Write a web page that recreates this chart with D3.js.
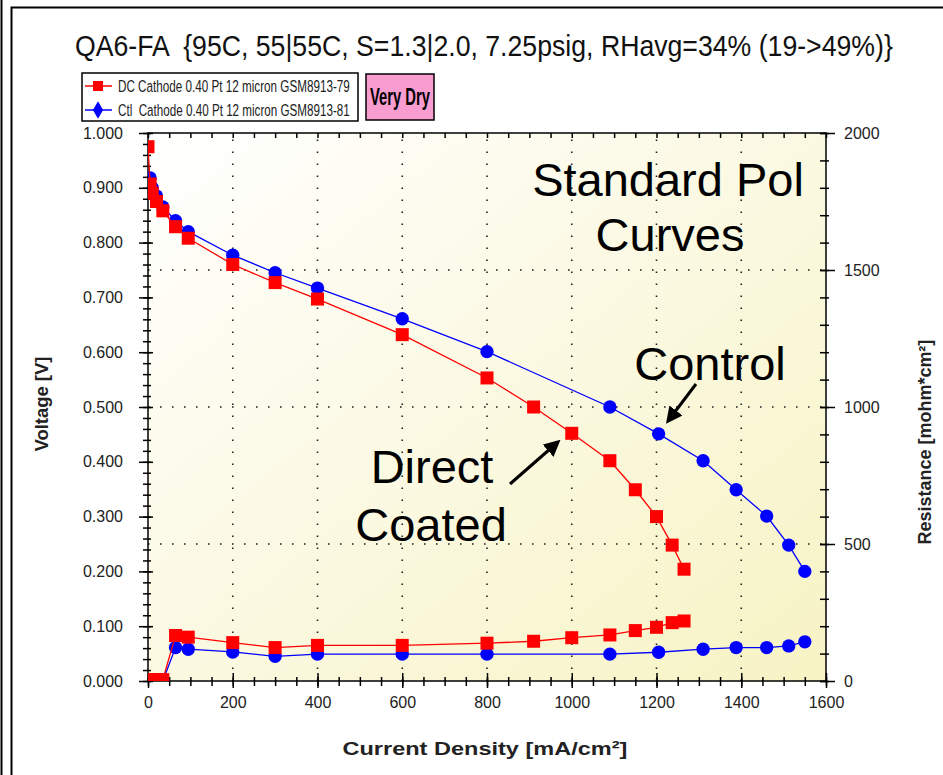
<!DOCTYPE html>
<html>
<head>
<meta charset="utf-8">
<script src="https://cdn.jsdelivr.net/npm/d3@7"></script>
<style>
  body { margin: 0; background: #fff; }
  svg { display: block; font-family: "Liberation Sans", Arial, sans-serif; }
  text { white-space: pre; }
</style>
</head>
<body>
<div id="chart"></div>
<script>
// ---- data ----
var title = "QA6-FA  {95C, 55|55C, S=1.3|2.0, 7.25psig, RHavg=34% (19->49%)}";
var seriesNames = ["DC Cathode 0.40 Pt 12 micron GSM8913-79", "Ctl  Cathode 0.40 Pt 12 micron GSM8913-81"];

// polarisation curves: current density [mA/cm2] and voltage [V]
var dcCurrent = [0, 5, 10, 20, 35, 65, 95, 200, 300, 400, 600, 800, 910, 1000, 1090, 1150, 1200, 1237, 1265];
var dcVoltage = [0.975, 0.907, 0.89, 0.875, 0.858, 0.829, 0.808, 0.760, 0.727, 0.697, 0.632, 0.553, 0.500, 0.452, 0.402, 0.349, 0.300, 0.248, 0.204];
var ctlCurrent = [5, 10, 20, 35, 65, 95, 200, 300, 400, 600, 800, 1090, 1205, 1310, 1388, 1460, 1512, 1550];
var ctlVoltage = [0.918, 0.900, 0.885, 0.865, 0.840, 0.820, 0.777, 0.745, 0.717, 0.661, 0.601, 0.500, 0.451, 0.402, 0.349, 0.301, 0.248, 0.200];

// high frequency resistance [mohm*cm2]
var dcResistance = [5, 5, 5, 5, 5, 166, 160, 140, 122, 130, 130, 138, 145, 158, 168, 184, 196, 213, 219];
var ctlResistance = [0, 0, 0, 0, 122, 116, 106, 90, 98, 98, 98, 98, 105, 116, 122, 122, 128, 143];

var xTicks = [0, 200, 400, 600, 800, 1000, 1200, 1400, 1600];
var vTicks = [0, 0.1, 0.2, 0.3, 0.4, 0.5, 0.6, 0.7, 0.8, 0.9, 1.0];
var rTicks = [0, 500, 1000, 1500, 2000];

var W = 943, H = 775;
var svg = d3.select("#chart").append("svg").attr("width", W).attr("height", H);

// squeeze a text horizontally to a given width (keeps its bounding box honest)
function fitText(sel, x, y, width, rotate, anchor) {
  sel.attr("x", 0).attr("y", 0).attr("text-anchor", "start");
  var len = sel.node().getComputedTextLength();
  var k = width / len;
  var shift = anchor === "middle" ? -width / 2 : 0;
  sel.attr("transform", "translate(" + x + "," + y + ")" + (rotate ? " rotate(" + rotate + ")" : "") +
    " translate(" + shift + ",0) scale(" + k + ",1)");
  return sel;
}

// outer frame
svg.append("line").attr("x1", 1.5).attr("x2", 1.5).attr("y1", 0).attr("y2", H)
  .attr("stroke", "#000").attr("stroke-width", 2);
svg.append("rect").attr("x", 11.5).attr("y", 7.5).attr("width", W + 20).attr("height", H + 20)
  .attr("fill", "none").attr("stroke", "#000").attr("stroke-width", 2);

var pl = 148, pr = 826, pt = 133, pb = 681;
var x = d3.scaleLinear().domain([0, 1600]).range([pl, pr]);
var yV = d3.scaleLinear().domain([0, 1]).range([pb, pt]);
var yR = d3.scaleLinear().domain([0, 2000]).range([pb, pt]);

var defs = svg.append("defs");
var grad = defs.append("linearGradient").attr("id", "bg")
  .attr("x1", "0%").attr("y1", "0%").attr("x2", "100%").attr("y2", "100%");
grad.append("stop").attr("offset", "0%").attr("stop-color", "#ffffff");
grad.append("stop").attr("offset", "100%").attr("stop-color", "#f7f3c4");
defs.append("clipPath").attr("id", "plotclip").append("rect")
  .attr("x", pl).attr("y", pt).attr("width", pr - pl).attr("height", pb - pt);
defs.append("marker").attr("id", "arrow").attr("viewBox", "0 0 10 10")
  .attr("refX", 8).attr("refY", 5).attr("markerWidth", 5.5).attr("markerHeight", 5.5)
  .attr("orient", "auto")
  .append("path").attr("d", "M0,0 L10,5 L0,10 z").attr("fill", "#000");

svg.append("rect").attr("x", pl).attr("y", pt).attr("width", pr - pl).attr("height", pb - pt)
  .attr("fill", "url(#bg)");

// dotted grid
var grid = svg.append("g").attr("stroke", "#222").attr("stroke-width", 1.6)
  .attr("stroke-dasharray", "1.6,10.4");
grid.selectAll(".gx").data(d3.range(200, 1600, 200)).enter().append("line")
  .attr("x1", function(d) { return x(d); }).attr("x2", function(d) { return x(d); })
  .attr("y1", pb).attr("y2", pt);
grid.selectAll(".gy").data([0.25, 0.5, 0.75]).enter().append("line")
  .attr("y1", function(d) { return yV(d); }).attr("y2", function(d) { return yV(d); })
  .attr("x1", pl).attr("x2", pr);

// axes
function fixTicks(g, a, b, horiz) {
  g.selectAll(".tick line").attr(horiz ? "y1" : "x1", a).attr(horiz ? "y2" : "x2", b)
    .attr("stroke", "#000").attr("stroke-width", 1.5);
  g.select(".domain").remove();
}

var axLeft = svg.append("g").attr("transform", "translate(" + pl + ",0)")
  .call(d3.axisLeft(yV).tickValues(vTicks).tickFormat(d3.format(".3f")).tickSize(0).tickPadding(25));
fixTicks(axLeft, -9, 5, false);
var axLeftMinor = svg.append("g").attr("transform", "translate(" + pl + ",0)")
  .call(d3.axisLeft(yV).tickValues(d3.range(0, 51).map(function(i) { return i * 0.02; })).tickFormat("").tickSize(0));
fixTicks(axLeftMinor, -5, 3, false);

var axBottom = svg.append("g").attr("transform", "translate(0," + pb + ")")
  .call(d3.axisBottom(x).tickValues(xTicks).tickFormat(d3.format("d")).tickSize(0).tickPadding(16));
fixTicks(axBottom, -8, 7, true);
var axBottomMinor = svg.append("g").attr("transform", "translate(0," + pb + ")")
  .call(d3.axisBottom(x).tickValues(d3.range(0, 1601, 50)).tickFormat("").tickSize(0));
fixTicks(axBottomMinor, -4, 5, true);
var axTopMinor = svg.append("g").attr("transform", "translate(0," + pt + ")")
  .call(d3.axisTop(x).tickValues(d3.range(0, 1601, 50)).tickFormat("").tickSize(0));
fixTicks(axTopMinor, 0, 5, true);

var axRight = svg.append("g").attr("transform", "translate(" + pr + ",0)")
  .call(d3.axisRight(yR).tickValues(rTicks).tickFormat(d3.format("d")).tickSize(0).tickPadding(18));
fixTicks(axRight, -6, 9, false);
var axRightMinor = svg.append("g").attr("transform", "translate(" + pr + ",0)")
  .call(d3.axisRight(yR).tickValues(d3.range(0, 2001, 100)).tickFormat("").tickSize(0));
fixTicks(axRightMinor, -6, 3, false);

svg.selectAll(".tick text").attr("font-size", 16).attr("fill", "#222")
  .attr("font-family", "'Liberation Sans', Arial, sans-serif");

// plot frame
svg.append("rect").attr("x", pl).attr("y", pt).attr("width", pr - pl).attr("height", pb - pt)
  .attr("fill", "none").attr("stroke", "#000").attr("stroke-width", 1.5);

// series
var plot = svg.append("g").attr("clip-path", "url(#plotclip)");
function zipData(xs, ys) { return xs.map(function(d, i) { return [d, ys[i]]; }); }
var series = [
  { color: "#ff0000", shape: "square", yScale: yV, data: zipData(dcCurrent, dcVoltage) },
  { color: "#0000ff", shape: "circle", yScale: yV, data: zipData(ctlCurrent, ctlVoltage) },
  { color: "#ff0000", shape: "square", yScale: yR, data: zipData(dcCurrent, dcResistance) },
  { color: "#0000ff", shape: "circle", yScale: yR, data: zipData(ctlCurrent, ctlResistance) }
];
// draw blue first so red sits on top like the original
[1, 3, 0, 2].forEach(function(k) {
  var s = series[k];
  var line = d3.line().x(function(d) { return x(d[0]); }).y(function(d) { return s.yScale(d[1]); });
  plot.append("path").datum(s.data).attr("d", line)
    .attr("fill", "none").attr("stroke", s.color).attr("stroke-width", 1.3);
  var sym = d3.symbol().type(s.shape === "square" ? d3.symbolSquare : d3.symbolCircle)
    .size(s.shape === "square" ? 169 : 140);
  plot.selectAll(null).data(s.data).enter().append("path")
    .attr("d", sym)
    .attr("transform", function(d) { return "translate(" + x(d[0]) + "," + s.yScale(d[1]) + ")"; })
    .attr("fill", s.color);
});

// title
fitText(svg.append("text").attr("font-size", 30).attr("fill", "#111").text(title),
  484, 56, 818, 0, "middle");

// axis titles
fitText(svg.append("text").attr("font-weight", "bold").attr("font-size", 18).attr("fill", "#222")
  .text("Voltage [V]"), 48, 404, 95, -90, "middle");
fitText(svg.append("text").attr("font-weight", "bold").attr("font-size", 19).attr("fill", "#222")
  .text("Current Density [mA/cm²]"), 485, 755, 285, 0, "middle");
fitText(svg.append("text").attr("font-weight", "bold").attr("font-size", 18).attr("fill", "#222")
  .text("Resistance [mohm*cm²]"), 931, 442, 205, -90, "middle");

// legend
var legend = svg.append("g");
legend.append("rect").attr("x", 82).attr("y", 73).attr("width", 276).attr("height", 48)
  .attr("fill", "#fff").attr("stroke", "#000").attr("stroke-width", 1.5);
[0, 1].forEach(function(i) {
  var ly = 86 + i * 24;
  var c = series[i].color;
  legend.append("line").attr("x1", 85).attr("x2", 112).attr("y1", ly).attr("y2", ly)
    .attr("stroke", c).attr("stroke-width", 1.5);
  legend.append("path")
    .attr("d", d3.symbol().type(i === 0 ? d3.symbolSquare : d3.symbolDiamond).size(i === 0 ? 100 : 90))
    .attr("transform", "translate(98," + ly + ")").attr("fill", c);
  fitText(legend.append("text").attr("font-size", 17).attr("fill", "#222").text(seriesNames[i]),
    118, ly + 6, 232, 0, "start");
});

// "Very Dry" tag
svg.append("rect").attr("x", 366).attr("y", 74).attr("width", 68).attr("height", 46)
  .attr("fill", "#f99cd0").attr("stroke", "#000").attr("stroke-width", 1.5);
fitText(svg.append("text").attr("font-weight", "bold").attr("font-size", 23).text("Very Dry"),
  400, 105, 60, 0, "middle");

// annotations
var notes = svg.append("g").attr("font-size", 47).attr("fill", "#000");
notes.append("text").attr("x", 668).attr("y", 196).attr("text-anchor", "middle").text("Standard Pol");
notes.append("text").attr("x", 670).attr("y", 251).attr("text-anchor", "middle").text("Curves");
notes.append("text").attr("x", 710).attr("y", 380).attr("text-anchor", "middle").text("Control");
notes.append("text").attr("x", 432).attr("y", 483).attr("text-anchor", "middle").text("Direct");
notes.append("text").attr("x", 431).attr("y", 541).attr("text-anchor", "middle").text("Coated");

svg.append("line").attr("x1", 696).attr("y1", 384).attr("x2", 668).attr("y2", 421)
  .attr("stroke", "#000").attr("stroke-width", 3).attr("marker-end", "url(#arrow)");
svg.append("line").attr("x1", 510).attr("y1", 484).attr("x2", 558).attr("y2", 442)
  .attr("stroke", "#000").attr("stroke-width", 3).attr("marker-end", "url(#arrow)");
</script>
</body>
</html>
